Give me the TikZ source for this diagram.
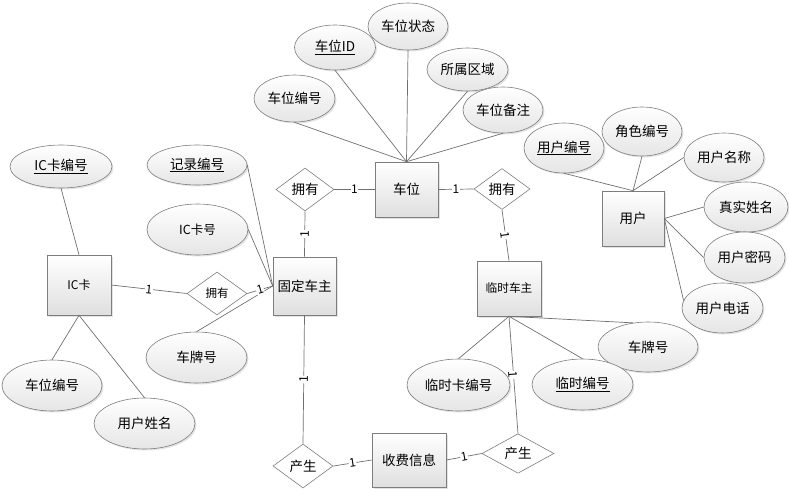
\documentclass[tikz,border=0pt]{standalone}
\usepackage{fontspec}
\newfontfamily\cjk{Noto Sans CJK SC}
\usetikzlibrary{shapes.geometric,shadows}
\definecolor{lc}{RGB}{112,112,112}
\definecolor{bc}{RGB}{125,125,125}
\begin{document}
\begin{tikzpicture}[x=1pt,y=-1pt,
 shd/.style={drop shadow={shadow xshift=1.5pt,shadow yshift=-1.5pt,opacity=0.22}},
 ent/.style={draw=bc,rectangle,line width=0.6pt,top color=white,bottom color=gray!25,shd,inner sep=0pt,font=\cjk\fontsize{13.5}{14}\selectfont},
 attr/.style={draw=bc,ellipse,line width=0.6pt,top color=white,bottom color=gray!20,shd,inner sep=0pt,font=\cjk\fontsize{13.5}{14}\selectfont},
 rel/.style={draw=bc,diamond,line width=0.6pt,fill=white,inner sep=0pt,font=\cjk\fontsize{13.5}{14}\selectfont},
 conn/.style={draw=lc,line width=0.7pt},
 card/.style={sloped,fill=white,inner sep=0.5pt,font=\cjk\fontsize{12}{12}\selectfont,text=black}
]
\useasboundingbox (0,0) rectangle (789,492);
% entities
\node[ent,minimum width=63pt,minimum height=55pt] (cw) at (406.5,189.5) {车位};
\node[ent,minimum width=62pt,minimum height=55pt] (yh) at (633,218.5) {用户};
\node[ent,minimum width=64pt,minimum height=60pt,font=\cjk\fontsize{12}{13}\selectfont] (ick) at (79,285) {IC卡};
\node[ent,minimum width=63pt,minimum height=58pt] (gdcz) at (304.5,286) {固定车主};
\node[ent,minimum width=64pt,minimum height=55pt,font=\cjk\fontsize{11.7}{12}\selectfont] (lscz) at (509,288.5) {临时车主};
\node[ent,minimum width=74pt,minimum height=54pt] (sfxx) at (409,460) {收费信息};
% relationships
\node[rel,minimum width=58pt,minimum height=43pt] (r1) at (305,189.5) {拥有};
\node[rel,minimum width=56pt,minimum height=41pt] (r2) at (502,189) {拥有};
\node[rel,minimum width=60pt,minimum height=43pt,font=\cjk\fontsize{11.5}{12}\selectfont] (r3) at (217,293.5) {拥有};
\node[rel,minimum width=60pt,minimum height=44pt] (p1) at (303,466) {产生};
\node[rel,minimum width=72pt,minimum height=39pt] (p2) at (518,453.5) {产生};
% attributes
\node[attr,minimum width=81pt,minimum height=45pt] (cwid) at (335,47.5) {\underline{车位ID}};
\node[attr,minimum width=80pt,minimum height=47pt] (cwzt) at (408,26.5) {车位状态};
\node[attr,minimum width=81pt,minimum height=43pt] (ssqy) at (467.5,69.5) {所属区域};
\node[attr,minimum width=81pt,minimum height=47pt] (cwbh) at (294.5,98.5) {车位编号};
\node[attr,minimum width=80pt,minimum height=46pt] (cwbz) at (503,110) {车位备注};
\node[attr,minimum width=80pt,minimum height=50pt] (yhbh) at (564,148) {\underline{用户编号}};
\node[attr,minimum width=80pt,minimum height=49pt] (jsbh) at (642,131.5) {角色编号};
\node[attr,minimum width=80pt,minimum height=49pt] (yhmc) at (724,157.5) {用户名称};
\node[attr,minimum width=84pt,minimum height=50pt] (zsxm) at (746,207) {真实姓名};
\node[attr,minimum width=81pt,minimum height=51pt] (yhmm) at (744.5,257.5) {用户密码};
\node[attr,minimum width=81pt,minimum height=50pt] (yhdh) at (722.5,308) {用户电话};
\node[attr,minimum width=100pt,minimum height=50pt] (cph2) at (648,347) {车牌号};
\node[attr,minimum width=101pt,minimum height=51pt] (lsbh) at (582.5,384.5) {\underline{临时编号}};
\node[attr,minimum width=103pt,minimum height=52pt] (lskbh) at (458.5,385) {临时卡编号};
\node[attr,minimum width=102pt,minimum height=43pt] (ickbh) at (61,166.5) {\underline{IC卡编号}};
\node[attr,minimum width=100pt,minimum height=40pt] (jlbh) at (197,165) {\underline{记录编号}};
\node[attr,minimum width=101pt,minimum height=51pt,font=\cjk\fontsize{12.5}{13}\selectfont] (ickh) at (197.5,229.5) {IC卡号};
\node[attr,minimum width=101pt,minimum height=51pt] (cph1) at (196.5,357.5) {车牌号};
\node[attr,minimum width=100pt,minimum height=51pt] (cwbh2) at (52,385.5) {车位编号};
\node[attr,minimum width=101pt,minimum height=51pt] (yhxm) at (144.5,423.5) {用户姓名};
% attribute lines
\draw[conn] (cwbh.south) -- (cw.north);
\draw[conn] (cwid.south) -- (cw.north);
\draw[conn] (cwzt.south) -- (cw.north);
\draw[conn] (ssqy.south) -- (cw.north);
\draw[conn] (cwbz.south) -- (cw.north);
\draw[conn] (yhbh.south) -- (yh.north);
\draw[conn] (jsbh.south) -- (yh.north);
\draw[conn] (yhmc.west) -- (yh.north);
\draw[conn] (zsxm.west) -- (yh.east);
\draw[conn] (yhmm.west) -- (yh.east);
\draw[conn] (yhdh.169) -- (yh.east);
\draw[conn] (lscz.south) -- (cph2.122);
\draw[conn] (lscz.south) -- (lsbh.north);
\draw[conn] (lscz.south) -- (lskbh.north);
\draw[conn] (jlbh.east) -- (gdcz.west);
\draw[conn] (ickh.east) -- (gdcz.west);
\draw[conn] (cph1.north) -- (gdcz.west);
\draw[conn] (ickbh.south) -- (ick.north);
\draw[conn] (cwbh2.north) -- (ick.south);
\draw[conn] (yhxm.north) -- (ick.south);
% relationship lines
\draw[conn] (cw.west) -- node[card]{1} (r1.east);
\draw[conn] (cw.east) -- node[card]{1} (r2.west);
\draw[conn] (r1.south) -- node[card]{1} (gdcz.north);
\draw[conn] (r2.south) -- node[card]{1} (lscz.north);
\draw[conn] (ick.east) -- node[card]{1} (r3.west);
\draw[conn] (r3.east) -- node[card]{1} (gdcz.west);
\draw[conn] (gdcz.south) -- node[card]{1} (p1.north);
\draw[conn] (p1.east) -- node[card]{1} (sfxx.west);
\draw[conn] (sfxx.east) -- node[card]{1} (p2.west);
\draw[conn] (lscz.south) -- node[card]{1} (p2.north);
\end{tikzpicture}
\end{document}
